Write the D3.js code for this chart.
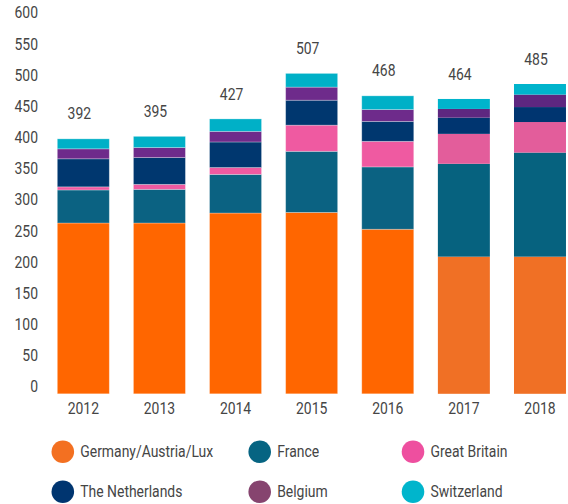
<!DOCTYPE html>
<html>
<head>
<meta charset="utf-8">
<script src="https://cdn.jsdelivr.net/npm/d3@7"></script>
<style>
  body { margin: 0; background: #fff; }
  text { font-family: "Roboto", sans-serif; fill: #454545; font-size: 16px; }
</style>
</head>
<body>
<div id="chart"></div>
<script>
// data
const years = ["2012", "2013", "2014", "2015", "2016", "2017", "2018"];
const series = ["Germany/Austria/Lux", "France", "Great Britain", "The Netherlands", "Belgium", "Switzerland"];
const germany = [274, 274, 290, 291, 264, 220, 220];
const france = [53, 54, 62, 98, 100, 149, 167];
const britain = [5, 8, 11, 42, 41, 48, 49];
const netherlands = [45, 43, 41, 40, 32, 26, 24];
const belgium = [16, 16, 17, 21, 19, 14, 20];
const switzerland = [16, 18, 20, 22, 22, 16, 17];
const totals = [392, 395, 427, 507, 468, 464, 485];
const yTicks = [0, 50, 100, 150, 200, 250, 300, 350, 400, 450, 500, 550, 600];

const barColors = ["#ff6600", "#0b6282", "#ef5aa1", "#00376f", "#6e2b8b", "#00b0c7"];
const lateColors = ["#f07025", "#06627f", "#e35d9b", "#003570", "#5e2780", "#00b4cc"]; // 2017, 2018 look slightly different
const legendColors = ["#f37021", "#066482", "#ee4f9f", "#003570", "#86446f", "#00b5cc"];
const lateYears = ["2017", "2018"];

const width = 568, height = 504;
const squeeze = 0.87; // the original font is a condensed one

const svg = d3.select("#chart")
    .append("svg")
    .attr("width", width)
    .attr("height", height);

const rows = years.map((yr, i) => ({
    year: yr,
    "Germany/Austria/Lux": germany[i],
    "France": france[i],
    "Great Britain": britain[i],
    "The Netherlands": netherlands[i],
    "Belgium": belgium[i],
    "Switzerland": switzerland[i]
}));

const stacked = d3.stack().keys(series)(rows);

const x = d3.scaleBand()
    .domain(years)
    .range([45.3, 578])
    .paddingInner(0.317)
    .paddingOuter(0.158);

const y = d3.scaleLinear()
    .domain([0, 600])
    .range([393.8, 19.8]);

// place a text at px,py and narrow it horizontally
function at(px, py) {
    return `translate(${px},${py}) scale(${squeeze},1)`;
}

// y labels (no axis line, no ticks)
svg.append("g")
    .selectAll("text")
    .data(yTicks)
    .join("text")
    .attr("transform", d => at(38, y(d) - 7))
    .attr("dy", "0.35em")
    .attr("text-anchor", "end")
    .text(d => d);

// stacked bars
svg.append("g")
    .selectAll("g")
    .data(stacked)
    .join("g")
    .each(function (layer, k) {
        d3.select(this)
            .selectAll("rect")
            .data(layer)
            .join("rect")
            .attr("x", d => x(d.data.year))
            .attr("width", x.bandwidth())
            .attr("y", d => y(d[1]))
            .attr("height", d => y(d[0]) - y(d[1]))
            .attr("fill", d => lateYears.includes(d.data.year) ? lateColors[k] : barColors[k])
            .attr("stroke", d => lateYears.includes(d.data.year) ? "none" : "rgba(255,255,255,0.35)")
            .attr("stroke-width", 0.8);
    });

// totals above the bars
const topLayer = stacked[stacked.length - 1];
svg.append("g")
    .selectAll("text")
    .data(years)
    .join("text")
    .attr("transform", (d, i) => at(x(d) + x.bandwidth() / 2 - 4, y(topLayer[i][1]) - 25))
    .attr("dy", "0.35em")
    .attr("text-anchor", "middle")
    .text((d, i) => totals[i]);

// year labels
svg.append("g")
    .selectAll("text")
    .data(years)
    .join("text")
    .attr("transform", d => at(x(d) + x.bandwidth() / 2, y(0) + 15))
    .attr("dy", "0.35em")
    .attr("text-anchor", "middle")
    .text(d => d);

// legend, 3 columns x 2 rows
const legendX = [62.8, 259.7, 413];
const legendY = [451.7, 491.7];

const legend = svg.append("g")
    .selectAll("g")
    .data(series)
    .join("g")
    .attr("transform", (d, i) => `translate(${legendX[i % 3]},${legendY[Math.floor(i / 3)]})`);

legend.append("circle")
    .attr("r", 11.3)
    .attr("fill", (d, i) => legendColors[i]);

legend.append("text")
    .attr("transform", at(17.5, 0))
    .attr("dy", "0.35em")
    .text(d => d);
</script>
</body>
</html>
